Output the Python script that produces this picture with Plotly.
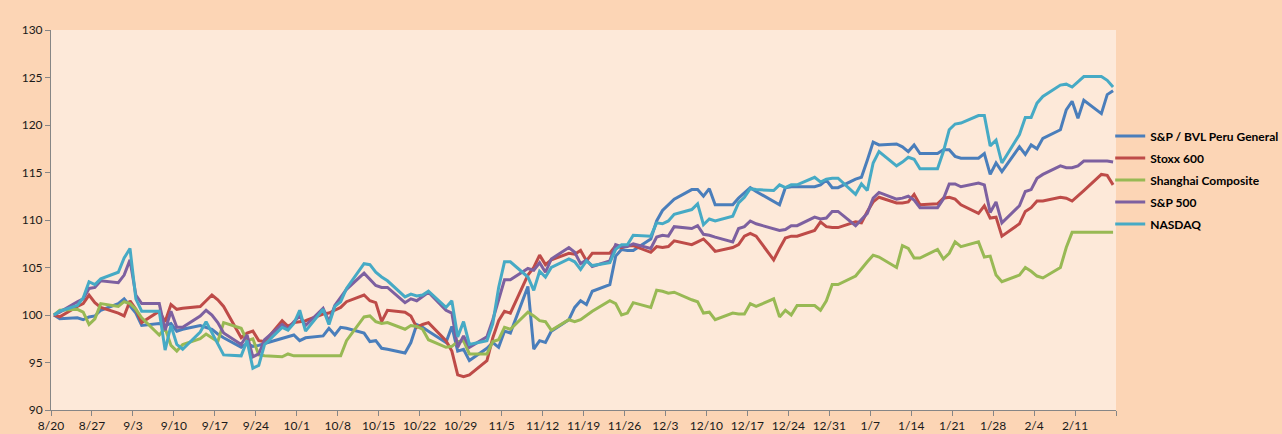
import pandas as pd
import plotly.graph_objects as go

# Trading days (business days) shown on the chart
dates = pd.bdate_range("2020-08-20", "2021-02-17")

series_names = ["S&P / BVL Peru General", "Stoxx 600", "Shanghai Composite", "S&P 500", "NASDAQ"]

peru = [
    100.0, 99.6, 99.7, 99.5, 99.8, 99.9, 100.5, 101.2,
    101.7, 101.0, 100.2, 98.9, 99.1, 98.9, 99.1, 98.3, 98.5, 98.9, 98.7, 98.5, 98.0, 97.6, 96.6, 97.0, 96.7, 96.8, 97.0, 97.5, 97.7, 97.9,
    97.3, 97.6, 97.8, 98.6, 97.9, 98.7, 98.6, 98.1, 97.2, 97.3, 96.5, 96.4, 96.0, 97.1, 99.0, 98.7, 98.3, 97.1, 98.8, 96.2, 96.4, 95.2,
    96.5, 97.1, 96.6, 98.3, 98.1, 103.0, 96.4, 97.3, 97.1, 98.3, 99.5, 100.8, 101.5, 101.1, 102.5, 103.2, 106.2, 106.9, 106.8, 106.8, 108.0,
    109.9, 111.0, 111.6, 112.2, 113.2, 113.2, 112.5, 113.3, 111.6, 111.6, 112.3, 112.8, 113.4, 113.0, 112.0, 111.6, 113.4, 113.5, 113.5, 113.5, 113.7, 114.2, 113.4,
    113.4, 114.3, 114.5, 116.3, 118.2, 117.9, 118.0, 117.7, 117.2, 117.9, 117.0, 117.0, 117.4, 117.4, 116.7, 116.5, 116.5, 117.0, 114.8, 116.0, 115.1,
    117.7, 116.9, 117.9, 117.5, 118.6, 119.5, 121.6, 122.5, 120.7, 122.6, 121.2, 123.2, 123.6,
]

stoxx = [
    100.0, 99.8, 100.9, 101.2, 102.1, 101.3, 100.8, 100.2,
    99.9, 101.5, 100.6, 99.2, 100.4, 99.3, 101.1, 100.6, 100.7, 100.9, 101.5, 102.1, 101.6, 100.9, 97.6, 98.1, 98.3, 97.3, 97.2, 99.4, 98.8, 99.2,
    99.3, 99.4, 100.1, 100.2, 100.5, 100.8, 101.4, 102.1, 101.5, 101.3, 99.3, 100.5, 100.3, 99.9, 98.7, 99.0, 99.2, 97.3, 96.2, 93.7, 93.5, 93.7,
    95.2, 97.6, 99.4, 100.4, 100.2, 104.2, 105.0, 106.3, 105.3, 105.8, 106.5, 106.4, 106.8, 105.7, 106.5, 106.5, 107.3, 107.1, 107.3, 107.3, 106.6,
    107.2, 107.1, 107.2, 107.8, 107.4, 107.7, 108.0, 107.4, 106.7, 107.1, 107.4, 108.3, 108.6, 108.3, 105.8, 107.0, 108.1, 108.3, 108.3, 108.9, 109.8, 109.3, 109.2,
    109.2, 109.8, 109.7, 110.9, 111.9, 112.4, 111.8, 111.8, 111.9, 112.7, 111.6, 111.7, 112.3, 112.4, 112.2, 111.6, 110.7, 111.5, 110.2, 110.3, 108.3,
    109.6, 110.9, 111.3, 112.0, 112.0, 112.4, 112.3, 112.0, 112.6, 113.1, 114.8, 114.7, 113.7,
]

shanghai = [
    100.0, 100.5, 100.6, 100.3, 99.0, 99.6, 101.2, 100.9,
    101.4, 101.2, 100.6, 99.7, 97.9, 98.6, 96.8, 96.2, 96.9, 97.5, 98.0, 97.6, 97.2, 99.2, 98.6, 97.3, 97.5, 95.8, 95.7, 95.6, 95.9, 95.7,
    95.7, 95.7, 95.7, 95.7, 95.7, 95.7, 97.3, 99.8, 99.9, 99.3, 99.1, 99.2, 98.5, 98.9, 98.8, 98.5, 97.4, 96.6, 96.7, 97.2, 97.3, 95.9,
    95.9, 97.2, 97.4, 98.7, 98.5, 100.3, 99.9, 99.4, 99.3, 98.4, 99.5, 99.3, 99.5, 100.0, 100.4, 101.5, 101.2, 100.0, 100.2, 101.3, 100.8,
    102.6, 102.5, 102.3, 102.4, 101.6, 101.4, 100.2, 100.3, 99.5, 100.2, 100.1, 100.1, 101.2, 100.9, 101.7, 99.8, 100.5, 100.0, 101.0, 101.0, 100.5, 101.5, 103.2,
    103.2, 104.1, 104.9, 105.6, 106.3, 106.1, 105.0, 107.3, 107.0, 106.0, 106.0, 106.9, 105.9, 106.5, 107.7, 107.2, 107.7, 106.1, 106.2, 104.2, 103.5,
    104.2, 105.0, 104.6, 104.1, 103.9, 105.0, 107.1, 108.7, 108.7, 108.7, 108.7, 108.7, 108.7,
]

sp500 = [
    100.0, 100.3, 101.4, 101.7, 102.8, 102.9, 103.6, 103.4,
    104.2, 105.8, 102.1, 101.2, 101.2, 98.4, 100.4, 98.7, 98.7, 99.9, 100.5, 100.0, 99.2, 98.1, 96.9, 97.9, 95.6, 95.9, 97.4, 99.0, 98.5, 99.3,
    99.9, 98.9, 100.7, 99.3, 101.0, 101.8, 102.7, 104.4, 103.7, 103.1, 102.9, 102.9, 101.3, 101.7, 101.5, 102.0, 102.4, 100.5, 100.2, 96.6, 97.8, 96.6,
    97.7, 99.5, 101.7, 103.7, 103.7, 104.9, 104.7, 105.5, 104.5, 105.9, 107.1, 106.6, 105.4, 105.8, 105.1, 105.7, 107.4, 107.2, 107.2, 107.5, 107.0,
    108.2, 108.4, 108.3, 109.3, 109.1, 109.4, 108.5, 108.4, 108.2, 107.7, 109.1, 109.3, 109.9, 109.6, 109.1, 108.9, 109.0, 109.4, 109.4, 110.3, 110.1, 110.2, 110.9,
    110.9, 109.4, 110.1, 110.7, 112.3, 112.9, 112.2, 112.3, 112.5, 112.1, 111.3, 111.3, 112.2, 113.8, 113.8, 113.5, 113.9, 113.7, 110.8, 111.9, 109.7,
    111.5, 113.0, 113.2, 114.4, 114.8, 115.7, 115.5, 115.5, 115.7, 116.2, 116.2, 116.2, 116.1,
]

nasdaq = [
    100.0, 100.4, 101.0, 101.8, 103.5, 103.2, 103.8, 104.5,
    106.0, 107.0, 101.7, 100.4, 100.4, 96.3, 98.9, 96.9, 96.4, 98.2, 99.3, 98.1, 96.9, 95.8, 95.7, 97.3, 94.4, 94.7, 96.9, 98.7, 98.4, 99.1,
    100.5, 98.3, 100.6, 99.0, 100.9, 101.4, 102.8, 105.4, 105.3, 104.5, 104.0, 103.6, 101.9, 102.2, 102.0, 102.1, 102.5, 100.8, 101.5, 97.7, 99.3, 96.9,
    97.3, 99.1, 102.9, 105.6, 105.6, 104.0, 102.6, 104.6, 104.0, 105.0, 105.9, 105.6, 104.8, 105.7, 105.2, 105.5, 106.9, 107.4, 107.4, 108.4, 108.3,
    109.7, 109.6, 109.9, 110.6, 111.1, 111.7, 109.5, 110.1, 109.9, 110.4, 111.8, 112.4, 113.3, 113.2, 113.1, 113.7, 113.4, 113.7, 113.7, 114.5, 114.0, 114.3, 114.4,
    114.4, 112.7, 113.8, 113.1, 116.0, 117.2, 115.7, 116.1, 116.6, 116.4, 115.4, 115.4, 117.2, 119.5, 120.1, 120.2, 121.0, 121.0, 117.8, 118.4, 116.0,
    119.0, 120.8, 120.8, 122.3, 123.0, 124.2, 124.3, 124.0, 124.5, 125.1, 125.1, 124.7, 124.0,
]

# weekly date ticks (the last tick, at the axis end, carries no label)
x_tick_dates = pd.date_range("2020-08-20", "2021-02-18", freq="7D")
x_tick_labels = ["8/20", "8/27", "9/3", "9/10", "9/17", "9/24", "10/1", "10/8", "10/15", "10/22",
                 "10/29", "11/5", "11/12", "11/19", "11/26", "12/3", "12/10", "12/17", "12/24",
                 "12/31", "1/7", "1/14", "1/21", "1/28", "2/4", "2/11", ""]
y_ticks = [90, 95, 100, 105, 110, 115, 120, 125, 130]

colors = ["#4A7EBB", "#BE4B48", "#98B954", "#7D60A0", "#46AAC5"]

# each daily point sits in the middle of its day on the date axis
x_pos = dates + pd.Timedelta(hours=12)

fig = go.Figure()
for i, (name, vals, col) in enumerate(zip(series_names, [peru, stoxx, shanghai, sp500, nasdaq], colors)):
    fig.add_trace(go.Scatter(
        x=x_pos, y=vals, name=name, mode="lines",
        line=dict(color=col, width=3),
        legendgroup=f"g{i}",
    ))

axis_col = "#868686"
fig.update_layout(
    width=1282, height=434,
    paper_bgcolor="#FCD5B5",
    plot_bgcolor="#FDE9D9",
    margin=dict(l=51, r=166, t=30, b=24, autoexpand=False),
    font=dict(family="Lato, Arial, sans-serif", size=12, color="#1a1a1a"),
    showlegend=True,
    legend=dict(
        xref="container", yref="container",
        x=0.866, xanchor="left", y=0.585, yanchor="middle",
        bgcolor="rgba(0,0,0,0)",
        font=dict(family="Lato, Arial, sans-serif", size=12, color="#000000", weight="bold"),
        itemwidth=30, tracegroupgap=3, traceorder="grouped",
    ),
    xaxis=dict(
        type="date",
        range=["2020-08-20", "2021-02-18"],
        tickvals=x_tick_dates, ticktext=x_tick_labels,
        showgrid=False, zeroline=False, automargin=False,
        showline=True, linecolor=axis_col, linewidth=1,
        ticks="outside", ticklen=5, tickcolor=axis_col,
        tickfont=dict(size=12, color="#1a1a1a"),
    ),
    yaxis=dict(
        range=[90, 130],
        tickvals=y_ticks,
        showgrid=False, zeroline=False, automargin=False,
        showline=True, linecolor=axis_col, linewidth=1,
        ticks="outside", ticklen=5, tickcolor=axis_col,
        tickfont=dict(size=12, color="#1a1a1a"),
    ),
)

fig.write_html(
    "out.html",
    config={"displayModeBar": False},
    post_script="document.body.style.margin='0px';document.body.style.backgroundColor='#FCD5B5';",
)
